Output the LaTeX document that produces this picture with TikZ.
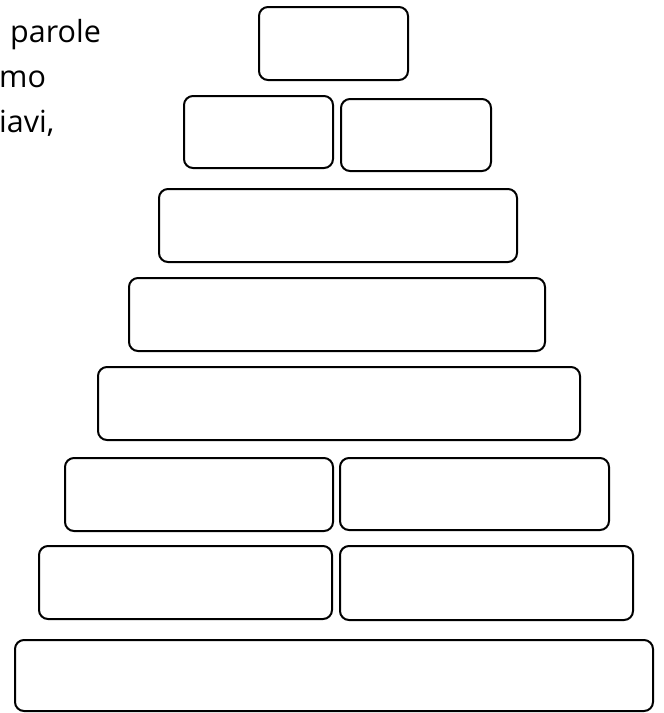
\documentclass[tikz,border=0pt]{standalone}
\usepackage{fontspec}
\setmainfont{Open Sans}

\begin{document}
\begin{tikzpicture}[x=1pt,y=-1pt,line cap=round,line join=round,
  tier/.style={rectangle,draw,line width=2pt,rounded corners=9pt,inner sep=0pt,fill=white},
  cutoff/.style={anchor=base west,inner sep=0pt,font=\fontsize{30.5}{45}\selectfont}]
\path[use as bounding box,fill=white] (0,0) rectangle (664,713);
\node[cutoff] (w1) at (10,42) {parole};
\node[cutoff] (w2) at (-1,87) {mo};
\node[cutoff] (w3) at (-1,132) {iavi,};
\node[tier,minimum width=149pt,minimum height=73pt] (r1) at (333.5,43.5) {};
\node[tier,minimum width=149pt,minimum height=72pt] (r2a) at (258.5,132) {};
\node[tier,minimum width=150pt,minimum height=72pt] (r2b) at (416,135) {};
\node[tier,minimum width=358pt,minimum height=73pt] (r3) at (338,225.5) {};
\node[tier,minimum width=416pt,minimum height=73pt] (r4) at (337,314.5) {};
\node[tier,minimum width=482pt,minimum height=73pt] (r5) at (339,403.5) {};
\node[tier,minimum width=268pt,minimum height=73pt] (r6a) at (199,494.5) {};
\node[tier,minimum width=269pt,minimum height=72pt] (r6b) at (474.5,494) {};
\node[tier,minimum width=293pt,minimum height=73pt] (r7a) at (185.5,582.5) {};
\node[tier,minimum width=293pt,minimum height=74pt] (r7b) at (486.5,583) {};
\node[tier,minimum width=638pt,minimum height=71pt] (r8) at (334,675.5) {};
\end{tikzpicture}
\end{document}
